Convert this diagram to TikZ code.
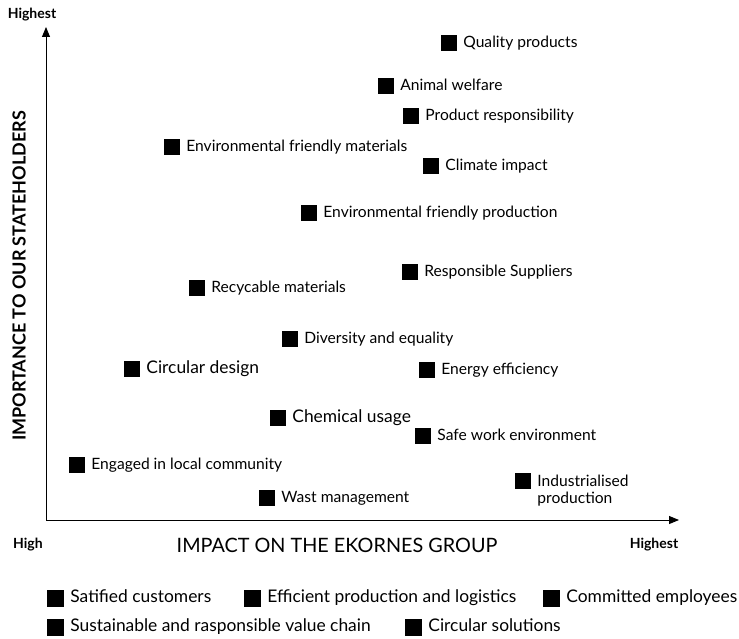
\documentclass[tikz,border=0pt]{standalone}
\usepackage{fontspec}
\setmainfont{Lato}
\usetikzlibrary{arrows.meta,positioning}

\begin{document}
\begin{tikzpicture}[
  x=1pt, y=-1pt,
  node distance=6pt,
  mark box/.style={fill=black, minimum size=16pt, inner sep=0pt},
  tag/.style={font=\fontsize{15.6}{17}\selectfont, inner sep=0pt, anchor=west, text height=1em, text depth=0.14em},
  bigtag/.style={tag, font=\fontsize{17.4}{19}\selectfont},
  twoline/.style={font=\fontsize{15.6}{17}\selectfont, inner sep=0pt, align=left, anchor=west},
  axis/.style={-{Triangle[length=10pt, width=8pt]}, line width=1pt},
  end label/.style={font=\bfseries\fontsize{14}{16}\selectfont, inner sep=0pt},
  title/.style={font=\fontsize{19.8}{22}\selectfont, inner sep=0pt}
]
\useasboundingbox (0,0) rectangle (739,639);

% axes
\coordinate (origin) at (46,520);
\coordinate (ytop) at (46,27);
\coordinate (xend) at (679,520);
\draw[axis] (origin) -- (ytop);
\draw[axis] (origin) -- (xend);
\node[end label] (ymax) at (32,15) {Highest};
\node[end label] (xmin) at (28,545) {High};
\node[end label] (xmax) at (654,545) {Highest};
\node[title] (xtitle) at (337,545) {IMPACT ON THE EKORNES GROUP};
\node[title, font=\bfseries\fontsize{18}{20}\selectfont, rotate=90] (ytitle) at (19,276) {IMPORTANCE TO OUR STATEHOLDERS};

% topics
\node[mark box] (quality) at (449,43) {};
\node[tag, right=of quality] (qualityT) {Quality products};
\node[mark box] (animal) at (386,86) {};
\node[tag, right=of animal] (animalT) {Animal welfare};
\node[mark box] (prodresp) at (411,116) {};
\node[tag, right=of prodresp] (prodrespT) {Product responsibility};
\node[mark box] (envmat) at (172,147) {};
\node[tag, right=of envmat] (envmatT) {Environmental friendly materials};
\node[mark box] (climate) at (431,166) {};
\node[tag, right=of climate] (climateT) {Climate impact};
\node[mark box] (envprod) at (309,213) {};
\node[tag, right=of envprod] (envprodT) {Environmental friendly production};
\node[mark box] (suppliers) at (410,272) {};
\node[tag, right=of suppliers] (suppliersT) {Responsible Suppliers};
\node[mark box] (recycable) at (197,288) {};
\node[tag, right=of recycable] (recycableT) {Recycable materials};
\node[mark box] (diversity) at (290,339) {};
\node[tag, right=of diversity] (diversityT) {Diversity and equality};
\node[mark box] (circular) at (132,369) {};
\node[bigtag, right=of circular] (circularT) {Circular design};
\node[mark box] (energy) at (427,370) {};
\node[tag, right=of energy] (energyT) {Energy efficiency};
\node[mark box] (chemical) at (278,418) {};
\node[bigtag, right=of chemical] (chemicalT) {Chemical usage};
\node[mark box] (safework) at (423,436) {};
\node[tag, right=of safework] (safeworkT) {Safe work environment};
\node[mark box] (community) at (77,465) {};
\node[tag, right=of community] (communityT) {Engaged in local community};
\node[mark box] (industrial) at (523,481) {};
\node[twoline] (industrialT) at ([xshift=6pt, yshift=-10pt]industrial.east) {Industrialised\\production};
\node[mark box] (waste) at (267,498) {};
\node[tag, right=of waste] (wasteT) {Wast management};

% legend
\node[mark box, minimum size=17pt] (leg1) at (55.5,598) {};
\node[bigtag, right=of leg1] (leg1T) {Satified customers};
\node[mark box, minimum size=17pt] (leg2) at (252.5,598) {};
\node[bigtag, right=of leg2] (leg2T) {Efficient production and logistics};
\node[mark box, minimum size=17pt] (leg3) at (551.5,598) {};
\node[bigtag, right=of leg3] (leg3T) {Committed employees};
\node[mark box, minimum size=17pt] (leg4) at (55.5,627) {};
\node[bigtag, right=of leg4] (leg4T) {Sustainable and rasponsible value chain};
\node[mark box, minimum size=17pt] (leg5) at (413.5,627) {};
\node[bigtag, right=of leg5] (leg5T) {Circular solutions};
\end{tikzpicture}
\end{document}
